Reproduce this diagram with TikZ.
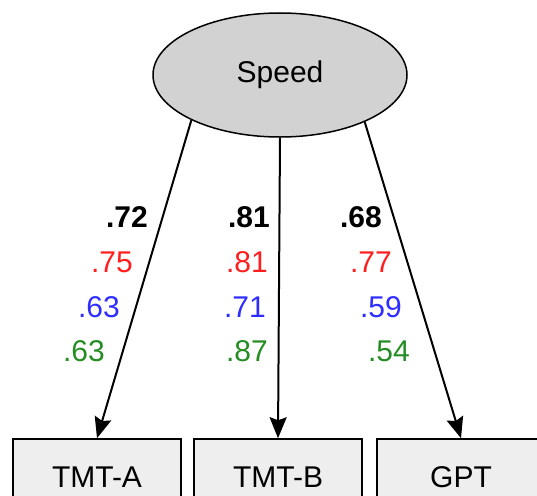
\documentclass[tikz,border=0pt]{standalone}
\usepackage{fontspec}
\setmainfont{Liberation Sans}
\usetikzlibrary{shapes}
\usetikzlibrary{arrows.meta}
\definecolor{lred}{RGB}{255,30,30}
\definecolor{lblue}{RGB}{45,45,255}
\definecolor{lgreen}{RGB}{35,140,35}

\begin{document}
\begin{tikzpicture}[x=1pt,y=-1pt,
					every node/.style={font=\fontsize{30}{36}\selectfont},
					latent/.style={ellipse,draw,line width=1.5pt,fill=gray!35,minimum width=254pt,minimum height=124pt,inner sep=0pt},
					manifest/.style={rectangle,draw,line width=1.5pt,fill=gray!13,minimum width=168pt,minimum height=76pt},
					load/.style={-{Stealth[length=21pt,width=17pt,inset=3pt]},line width=2pt},
					est/.style={anchor=east,inner sep=0pt}
					]
					\useasboundingbox (0,0) rectangle (537,495);
					\node[latent](sp) at (280,75){Speed};
					\node[manifest](ta) at (97,477){TMT-A};
					\node[manifest](tb) at (278,477){TMT-B};
					\node[manifest](gp) at (461,477){GPT};
					\draw[load](sp.207) -- (ta.north);
					\draw[load](sp.south) -- (tb.north);
					\draw[load](sp.331) -- (gp.north);
					% loadings, one column per indicator
					\node[est,font=\fontsize{30}{36}\selectfont\bfseries](a1) at (148,217){.72};
					\node[est,text=lred](a2) at (133,262){.75};
					\node[est,text=lblue](a3) at (120,307){.63};
					\node[est,text=lgreen](a4) at (105,351){.63};
					\node[est,font=\fontsize{30}{36}\selectfont\bfseries](b1) at (270,217){.81};
					\node[est,text=lred](b2) at (268,262){.81};
					\node[est,text=lblue](b3) at (266,307){.71};
					\node[est,text=lgreen](b4) at (268,351){.87};
					\node[est,font=\fontsize{30}{36}\selectfont\bfseries](c1) at (382,217){.68};
					\node[est,text=lred](c2) at (392,262){.77};
					\node[est,text=lblue](c3) at (402,307){.59};
					\node[est,text=lgreen](c4) at (410,351){.54};
					\end{tikzpicture}
\end{document}
